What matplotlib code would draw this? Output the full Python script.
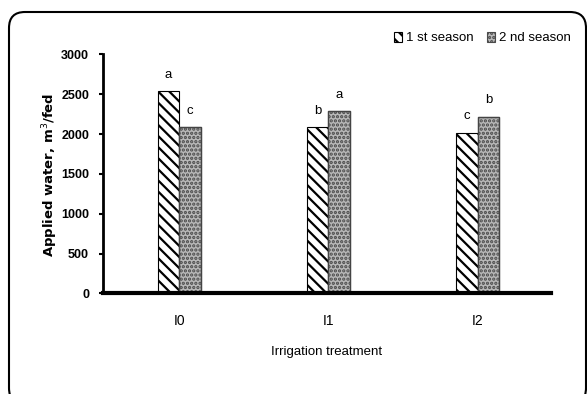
import matplotlib
matplotlib.use("Agg")
import matplotlib.pyplot as plt
import matplotlib.patches as mpatches
import matplotlib.transforms as mtransforms
import numpy as np

plt.rcParams.update({
    "font.family": ["Liberation Sans Narrow", "Liberation Sans", "DejaVu Sans"],
    "hatch.linewidth": 1.6,
})

treatments = ["I0", "I1", "I2"]
season1 = [2540, 2090, 2020]
season2 = [2085, 2290, 2220]
letters1 = ["a", "b", "c"]
letters2 = ["c", "a", "b"]
yticks = [0, 500, 1000, 1500, 2000, 2500, 3000]

W, H = 587, 394
fig = plt.figure(figsize=(W / 100, H / 100), dpi=100)
ax = fig.add_axes([103 / W, (H - 293.3) / H, (551 - 103) / W, (293.3 - 54.5) / H])

x = np.arange(len(treatments))
w = 0.144

b1 = ax.bar(x - w / 2, season1, w, facecolor="white", edgecolor="black",
            hatch="\\\\\\", linewidth=0.8, label="1 st season")
b2 = ax.bar(x + w / 2, season2, w, facecolor="#b8b8b8", edgecolor="#4a4a4a",
            hatch="....", linewidth=0.8, label="2 nd season")
# crisp outline on top of the dotted fill
ax.bar(x + w / 2, season2, w, facecolor="none", edgecolor="#444444", linewidth=1.0)

for xi, v, t in zip(x - w / 2, season1, letters1):
    ax.text(xi, v + 130, t, ha="center", va="bottom", fontsize=9.5)
for xi, v, t in zip(x + w / 2, season2, letters2):
    ax.text(xi, v + 130, t, ha="center", va="bottom", fontsize=9.5)

ax.set_xlim(-0.51, 2.49)
ax.set_ylim(0, 3000)
ax.set_yticks(yticks)
ax.set_yticklabels([str(t) for t in yticks], fontweight="bold", fontsize=9)
ax.set_xticks(x)
ax.set_xticklabels(treatments, fontsize=10)
ax.tick_params(axis="x", length=0, pad=15)
ax.tick_params(axis="y", length=3, width=1.5, direction="out", pad=7)

for s in ["top", "right"]:
    ax.spines[s].set_visible(False)
ax.spines["left"].set_linewidth(2)
ax.spines["bottom"].set_linewidth(3)

ax.set_xlabel("Irrigation treatment", fontsize=9.5, labelpad=13)
fig.text(50 / W, 1 - 175 / H, "Applied water, m$^3$/fed", rotation=90,
         ha="center", va="center", fontsize=9.5, fontweight="bold",
         family="DejaVu Sans")

fig.legend(handles=[b1, b2], loc="center right",
           bbox_to_anchor=(576 / W, 1 - 38 / H), ncol=2, frameon=False,
           fontsize=9.5, handlelength=0.6, handleheight=0.8,
           handletextpad=0.3, columnspacing=1.0, borderaxespad=0)

frame = mpatches.FancyBboxPatch((9, -10), 577, H - 12 + 10,
                                boxstyle="round,pad=0,rounding_size=16",
                                transform=mtransforms.IdentityTransform(),
                                facecolor="none", edgecolor="black",
                                linewidth=1.5)
fig.patches.append(frame)

fig.savefig("out.png", dpi=100)
